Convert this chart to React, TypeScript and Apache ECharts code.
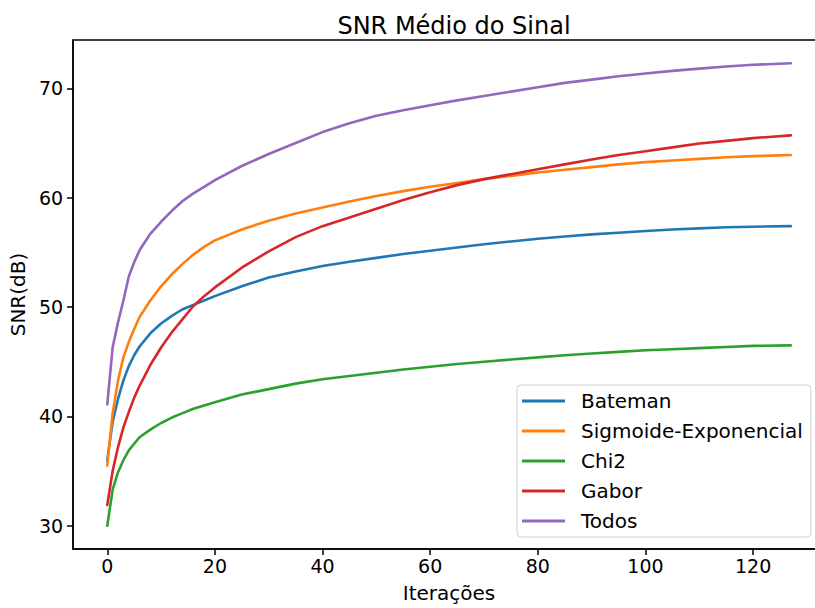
import React, { useEffect, useRef } from "react";
import * as echarts from "echarts";

const iterations = [0, 1, 2, 3, 4, 5, 6, 8, 10, 12, 14, 16, 18, 20, 25, 30, 35, 40, 45, 50, 55, 60, 65, 70, 75, 80, 85, 90, 95, 100, 105, 110, 115, 120, 127];

const bateman = [36.0, 39.5, 41.6, 43.3, 44.6, 45.6, 46.4, 47.6, 48.5, 49.2, 49.8, 50.2, 50.6, 51.0, 51.9, 52.7, 53.25, 53.75, 54.15, 54.5, 54.85, 55.15, 55.45, 55.75, 56.0, 56.25, 56.45, 56.65, 56.8, 56.95, 57.1, 57.2, 57.3, 57.35, 57.4];
const sigmoide = [35.5, 40.3, 43.3, 45.4, 46.8, 48.0, 49.1, 50.6, 51.9, 53.0, 53.95, 54.8, 55.5, 56.1, 57.1, 57.9, 58.55, 59.1, 59.65, 60.15, 60.6, 61.0, 61.35, 61.7, 62.0, 62.3, 62.55, 62.8, 63.05, 63.25, 63.4, 63.55, 63.7, 63.8, 63.9];
const chi2 = [30.0, 33.3, 34.9, 36.0, 36.9, 37.5, 38.1, 38.8, 39.4, 39.9, 40.3, 40.7, 41.0, 41.3, 42.0, 42.5, 43.0, 43.4, 43.7, 44.0, 44.3, 44.55, 44.8, 45.0, 45.2, 45.4, 45.6, 45.75, 45.9, 46.05, 46.15, 46.25, 46.35, 46.45, 46.5];
const gabor = [31.9, 35.0, 37.2, 39.0, 40.4, 41.7, 42.8, 44.7, 46.3, 47.7, 48.9, 50.1, 51.0, 51.8, 53.6, 55.1, 56.4, 57.4, 58.2, 59.0, 59.8, 60.5, 61.15, 61.7, 62.15, 62.6, 63.05, 63.5, 63.9, 64.25, 64.6, 64.95, 65.2, 65.45, 65.7];
const todos = [41.1, 46.3, 48.6, 50.6, 52.8, 54.1, 55.2, 56.7, 57.8, 58.8, 59.7, 60.4, 61.0, 61.6, 62.9, 64.0, 65.0, 66.0, 66.8, 67.5, 68.0, 68.45, 68.9, 69.3, 69.7, 70.1, 70.5, 70.8, 71.1, 71.35, 71.6, 71.8, 72.0, 72.15, 72.3];

const seriesNames = ["Bateman", "Sigmoide-Exponencial", "Chi2", "Gabor", "Todos"];
const seriesColors = ["#1f77b4", "#ff7f0e", "#2ca02c", "#d62728", "#9467bd"];
const xTicks = [0, 20, 40, 60, 80, 100, 120];
const yTicks = [30, 40, 50, 60, 70];

const FONT = "DejaVu Sans";

export default function App() {
  const ref = useRef<HTMLDivElement>(null);
  useEffect(() => {
    if (!ref.current) return;
    const chart = echarts.init(ref.current, undefined, { renderer: "svg" });
    const allSeries = [bateman, sigmoide, chi2, gabor, todos];
    chart.setOption({
      animation: false,
      backgroundColor: "#ffffff",
      textStyle: { fontFamily: FONT },
      title: {
        text: "SNR Médio do Sinal",
        left: 449,
        top: 9,
        textAlign: "center",
        textStyle: { fontFamily: FONT, fontSize: 24, fontWeight: "normal", color: "#000" },
      },
      grid: {
        left: 73,
        top: 40,
        right: 5,
        bottom: 55,
        show: true,
        borderColor: "#000",
        borderWidth: 1.5,
        backgroundColor: "transparent",
        containLabel: false,
      },
      legend: {
        orient: "vertical",
        left: 517,
        top: 385,
        padding: [6, 8, 6, 5],
        itemWidth: 43,
        itemHeight: 3,
        itemGap: 10,
        icon: "rect",
        borderColor: "#d0d0d0",
        borderWidth: 1,
        borderRadius: 4,
        backgroundColor: "rgba(255,255,255,0.8)",
        textStyle: { fontFamily: FONT, fontSize: 20, color: "#000", lineHeight: 20, padding: [0, 0, 0, 11] },
        data: seriesNames,
      },
      xAxis: {
        type: "value",
        min: -6.35,
        max: 133.35,
        name: "Iterações",
        nameLocation: "middle",
        nameGap: 34,
        nameTextStyle: { fontFamily: FONT, fontSize: 20, color: "#000" },
        axisLine: { show: true, onZero: false, lineStyle: { color: "#000", width: 1.5 } },
        axisTick: { show: true, length: 6, customValues: xTicks, lineStyle: { color: "#000", width: 1.5 } },
        axisLabel: { customValues: xTicks, fontFamily: FONT, fontSize: 19, color: "#000", margin: 7 },
        splitLine: { show: false },
      },
      yAxis: {
        type: "value",
        min: 27.88,
        max: 74.42,
        name: "SNR(dB)",
        nameLocation: "middle",
        nameGap: 42,
        nameRotate: 90,
        nameTextStyle: { fontFamily: FONT, fontSize: 20, color: "#000" },
        axisLine: { show: true, onZero: false, lineStyle: { color: "#000", width: 1.5 } },
        axisTick: { show: true, length: 6, customValues: yTicks, lineStyle: { color: "#000", width: 1.5 } },
        axisLabel: { customValues: yTicks, fontFamily: FONT, fontSize: 19, color: "#000", margin: 10 },
        splitLine: { show: false },
      },
      series: seriesNames.map((name, k) => ({
        name,
        type: "line",
        showSymbol: false,
        symbol: "none",
        smooth: false,
        color: seriesColors[k],
        lineStyle: { width: 2.6, color: seriesColors[k], join: "round", cap: "round" },
        data: iterations.map((it, i) => [it, allSeries[k][i]]),
      })),
    });
    return () => chart.dispose();
  }, []);
  return <div ref={ref} style={{ position: "fixed", left: 0, top: 0, width: 830, height: 608 }} />;
}
